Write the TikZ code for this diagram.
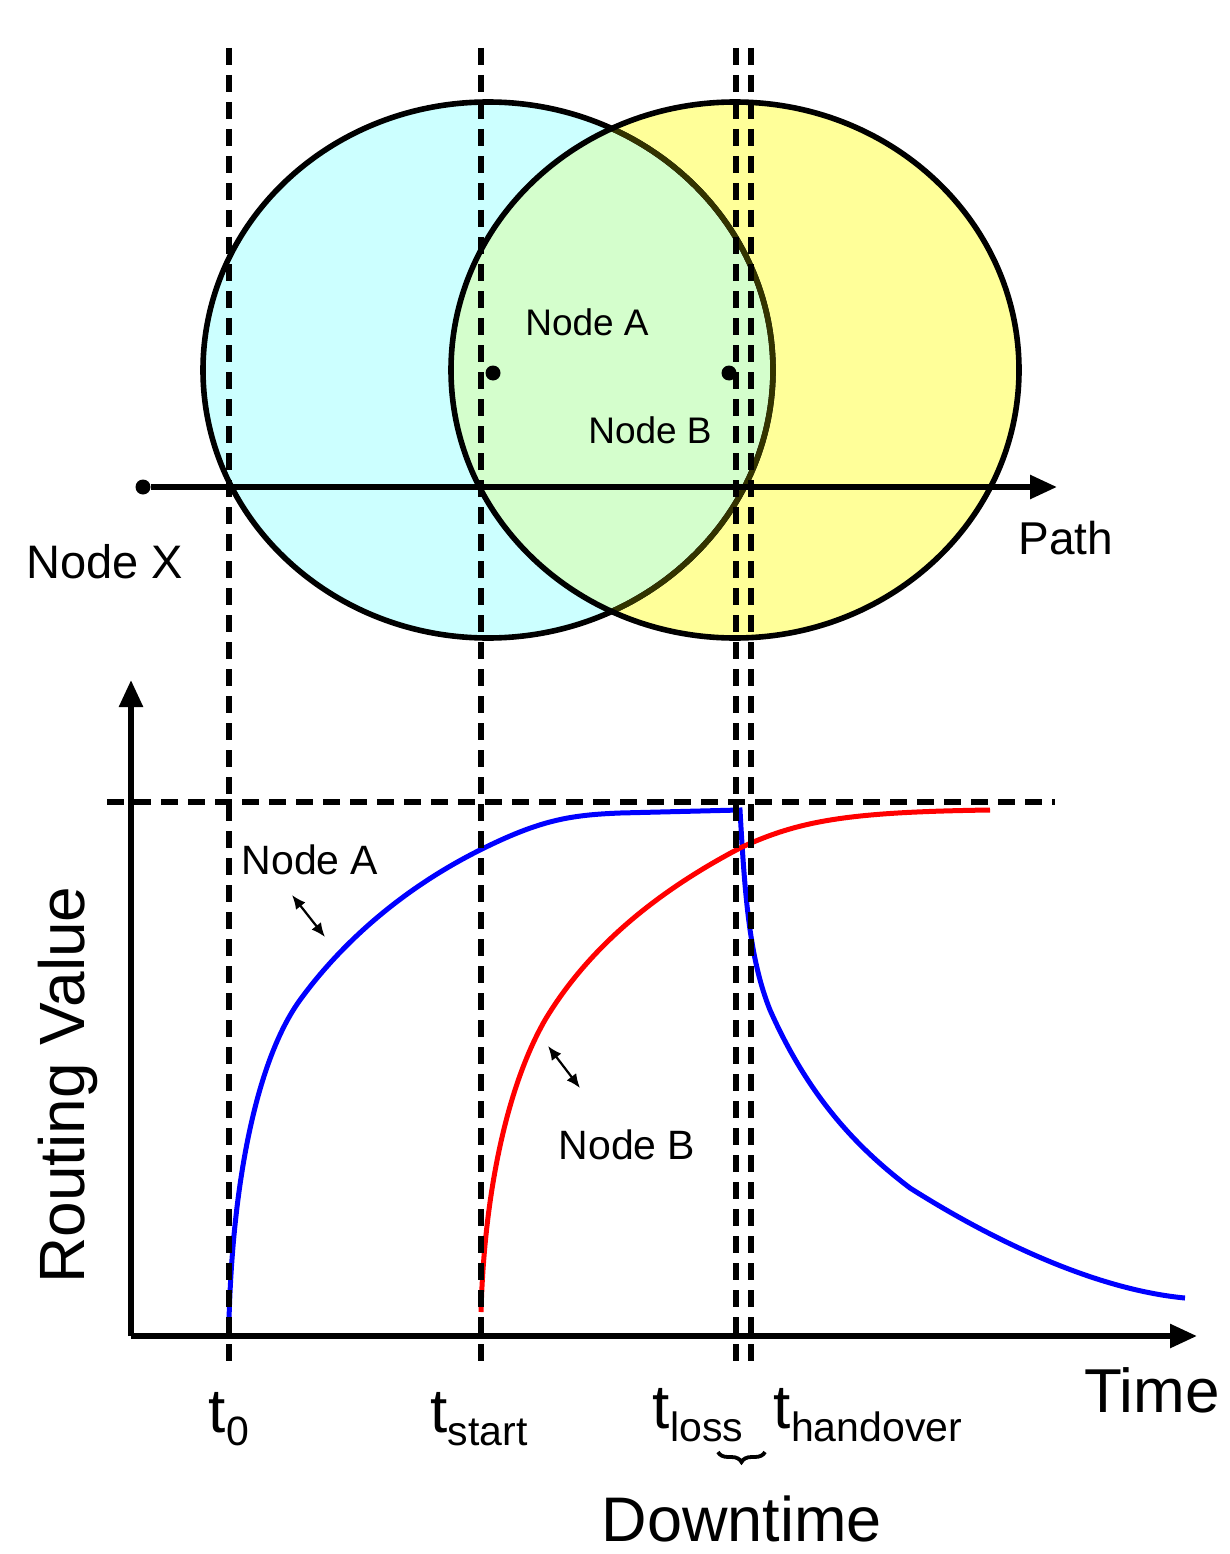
\documentclass[tikz,border=0pt]{standalone}
\usepackage{fontspec}
\setmainfont{Liberation Sans}
\usetikzlibrary{arrows.meta,decorations.pathreplacing}
\newcommand{\fs}[1]{\fontsize{#1}{#1}\selectfont}
\newcommand{\tsub}[1]{t\raisebox{-13pt}{\fs{41}#1}}
\begin{document}
\begin{tikzpicture}[x=1pt,y=-1pt,
  thick4/.style={line width=5.6pt},
  vdash/.style={line width=5.4pt,dash pattern=on 17pt off 10pt},
  curveA/.style={line width=5pt,blue},
  curveB/.style={line width=5pt,red},
  dbl/.style={line width=2.2pt,{Latex[length=14pt,width=12pt]}-{Latex[length=14pt,width=12pt]}},
  dot/.style={circle,fill,inner sep=0pt,minimum size=15pt},
  lbl/.style={inner sep=0pt}]
\useasboundingbox (0,0) rectangle (1230,1554);
\definecolor{cyanA}{HTML}{CCFFFF}
\definecolor{yelB}{HTML}{FFFF99}
\definecolor{grnAB}{HTML}{D4FECC}
\definecolor{olive}{HTML}{333300}
% circles
\fill[cyanA] (488,370) ellipse [x radius=285, y radius=268];
\fill[yelB] (735,370) ellipse [x radius=284, y radius=268];
\begin{scope}
\clip (488,370) ellipse [x radius=285, y radius=268];
\fill[grnAB] (735,370) ellipse [x radius=284, y radius=268];
\end{scope}
\draw[thick4] (488,370) ellipse [x radius=285, y radius=268];
\draw[thick4] (735,370) ellipse [x radius=284, y radius=268];
\begin{scope}
\clip (735,370) ellipse [x radius=281, y radius=265];
\draw[thick4,olive] (488,370) ellipse [x radius=285, y radius=268];
\end{scope}
% path
\node[dot] (X) at (143,487) {};
\coordinate (P) at (1057,487);
\draw[thick4,-{Triangle[length=27pt,width=23pt]}] (X) -- (P);
\node[lbl] (lx) at (105,562) {\fs{47}Node X};
\node[lbl] (lp) at (1066,538) {\fs{46}Path};
% node dots
\node[dot] (dA) at (493,373) {};
\node[dot] (dB) at (729,373) {};
\node[lbl] (lA) at (587,322) {\fs{37}Node A};
\node[lbl] (lB) at (650,430) {\fs{37}Node B};
% graph axes
\coordinate (O) at (131,1336);
\coordinate (Ytop) at (131,680);
\coordinate (Xend) at (1197,1336);
\draw[thick4,-{Triangle[length=27pt,width=23pt]}] (O) -- (Ytop);
\draw[thick4,-{Triangle[length=27pt,width=23pt]}] (O) -- (Xend);
\coordinate (H1) at (107,802);
\coordinate (H2) at (1055,802);
\draw[vdash] (H1) -- (H2);
% curves
\draw[curveA] (229,1320) .. controls (233,1170) and (260,1055) .. (300,1000)
  .. controls (340,945) and (400,890) .. (480,850)
  .. controls (540,820) and (570,815) .. (620,813)
  -- (740,810)
  .. controls (745,900) and (750,960) .. (770,1010)
  .. controls (810,1100) and (860,1150) .. (910,1188)
  .. controls (1000,1245) and (1100,1290) .. (1185,1298);
\draw[curveB] (481,1312) .. controls (484,1200) and (505,1090) .. (545,1020)
  .. controls (590,945) and (660,890) .. (740,848)
  .. controls (800,820) and (850,812) .. (990,810);
% vertical dashed lines
\foreach \n/\x in {a/229,b/481,c/736,d/751}{
  \coordinate (\n top) at (\x,48);
  \coordinate (\n bot) at (\x,1366);
  \draw[vdash] (\n top) -- (\n bot);
}
% double arrows and labels
\coordinate (a1) at (292,895); \coordinate (a2) at (325,937);
\draw[dbl] (a1) -- (a2);
\coordinate (b1) at (548,1046); \coordinate (b2) at (580,1088);
\draw[dbl] (b1) -- (b2);
\node[lbl] (gA) at (310,860) {\fs{41}Node A};
\node[lbl] (gB) at (627,1145) {\fs{41}Node B};
\node[lbl,rotate=90] (rv) at (68,1085) {\fs{64}Routing Value};
\node[lbl] (tm) at (1152,1390) {\fs{62}Time};
% t labels
\node[lbl,anchor=base] (t0) at (229,1432) {\fs{62}\tsub{0}};
\node[lbl,anchor=base] (ts) at (479,1432) {\fs{62}\tsub{start}};
\node[lbl,anchor=base] (tl) at (698,1428) {\fs{62}\tsub{loss}};
\node[lbl,anchor=base] (th) at (868,1428) {\fs{62}\tsub{handover}};
\coordinate (br1) at (718,1452); \coordinate (br2) at (765,1452);
\draw[line width=3.8pt,decorate,decoration={brace,mirror,amplitude=10pt}] (br1) -- (br2);
\node[lbl,anchor=base] (dt) at (742,1541) {\fs{63}Downtime};
\end{tikzpicture}
\end{document}
